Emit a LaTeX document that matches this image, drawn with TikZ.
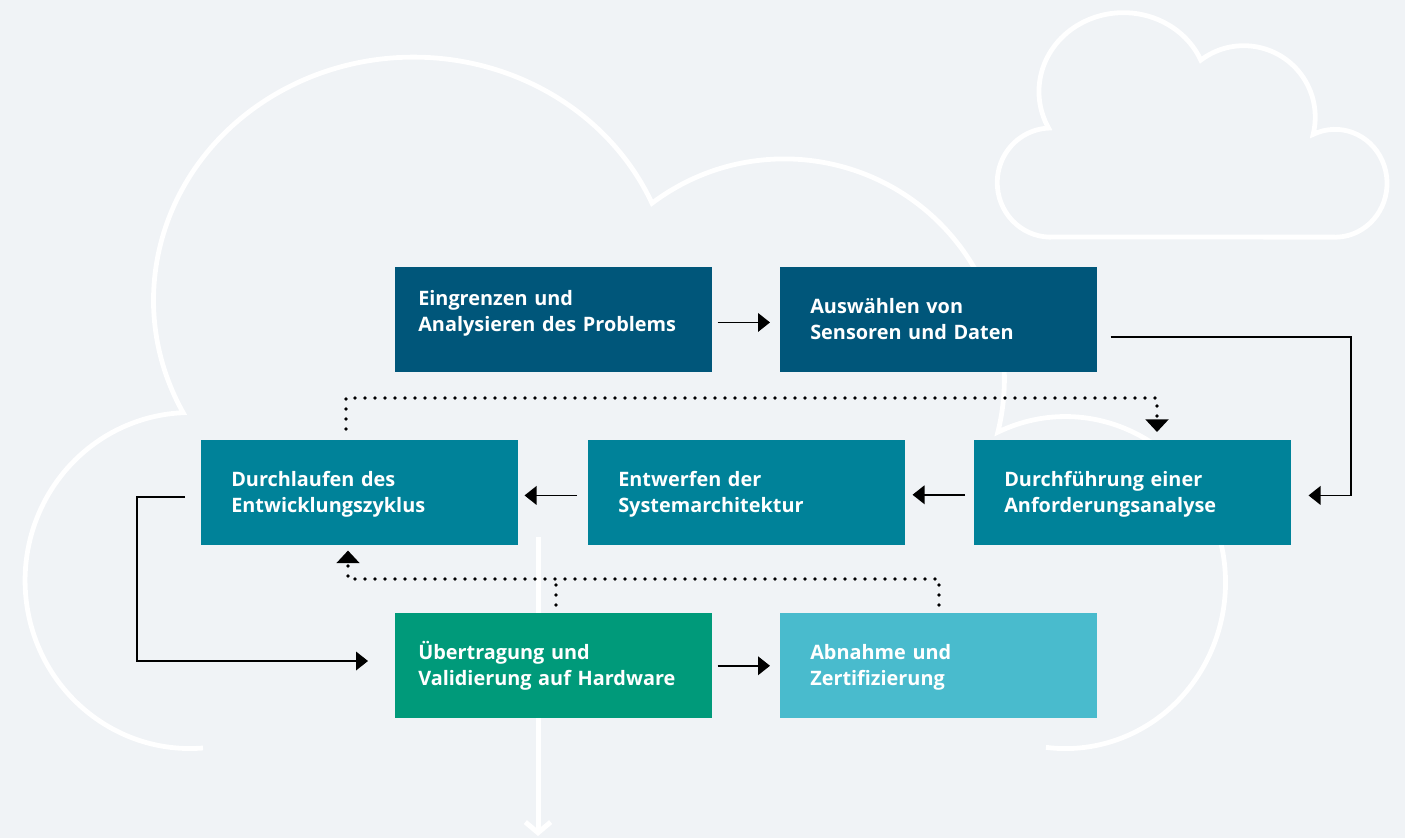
\documentclass[tikz,border=0pt]{standalone}
\usepackage{fontspec}
\setmainfont{Open Sans}
\usetikzlibrary{arrows.meta}

\definecolor{bgcol}{RGB}{240,243,246}
\definecolor{darkblue}{RGB}{0,86,122}
\definecolor{petrol}{RGB}{0,130,153}
\definecolor{boxgreen}{RGB}{0,154,122}
\definecolor{boxcyan}{RGB}{73,187,205}

\begin{document}
\begin{tikzpicture}[x=0.75pt,y=0.75pt,yscale=-1,xscale=1,
  box/.style={anchor=north west,minimum width=237.75pt,minimum height=78.75pt,inner ysep=0pt,inner xsep=22.5pt,text width=192.75pt,align=left,text=white,font=\fontsize{14.9}{19.5}\selectfont\bfseries,text height=10pt,text depth=19.75pt},
  boxwide/.style={inner xsep=17.25pt,text width=203.25pt},
  conn/.style={line width=1.1pt,-{Triangle[length=9pt,width=14pt]}},
  dotline/.style={line width=2.7pt,line cap=round,dash pattern=on 0pt off 7.5pt},
  dothead/.style={-{Triangle[length=9.5pt,width=17pt]}},
  cloudline/.style={draw=white,line width=3.6pt}]
%set diagram left start at 0, and has height of 838
\useasboundingbox (0,0) rectangle (1405,838);
\fill[bgcol] (0,0) rectangle (1405,838);

%Shape: Cloud
\draw[cloudline] (203,748) arc[start angle=85.5,end angle=267.6,x radius=165,y radius=168] arc[start angle=152.4,end angle=336.5,x radius=260,y radius=243] arc[start angle=233,end angle=374,radius=220] arc[start angle=245,end angle=457,x radius=160,y radius=166] ;
%Shape: Cloud
\begin{scope}[shift={(989.1,-5.9)},scale=0.3247]
\draw[cloudline] (203,748) arc[start angle=85.5,end angle=267.6,x radius=165,y radius=168] arc[start angle=152.4,end angle=336.5,x radius=260,y radius=243] arc[start angle=233,end angle=374,radius=220] arc[start angle=245,end angle=452,x radius=160,y radius=166] -- cycle ;
\end{scope}

%Straight Lines
\coordinate (wtop) at (538,537);
\coordinate (wbot) at (538,836);
\draw[white,line width=3.75pt,-{Straight Barb[length=8pt,width=19pt]}] (wtop) -- (wbot) ;

%Shape: Rectangle
\node[box,boxwide,fill=darkblue,text depth=31.75pt] (eingrenzen) at (395,267) {Eingrenzen und\\Analysieren des Problems};
%Shape: Rectangle
\node[box,fill=darkblue] (auswaehlen) at (780,267) {Auswählen von\\Sensoren und Daten};
%Shape: Rectangle
\node[box,fill=petrol] (durchlaufen) at (201,440) {Durchlaufen des\\Entwicklungszyklus};
%Shape: Rectangle
\node[box,fill=petrol] (entwerfen) at (588,440) {Entwerfen der\\Systemarchitektur};
%Shape: Rectangle
\node[box,fill=petrol] (durchfuehrung) at (974,440) {Durchführung einer\\Anforderungsanalyse};
%Shape: Rectangle
\node[box,boxwide,fill=boxgreen] (uebertragung) at (395,613) {Übertragung und\\Validierung auf Hardware};
%Shape: Rectangle
\node[box,fill=boxcyan] (abnahme) at (780,613) {Abnahme und\\Zertifizierung};

%Straight Lines
\draw[conn,shorten <=3.75pt,shorten >=7.5pt] ([yshift=2pt]eingrenzen.east) -- ([yshift=2pt]auswaehlen.west) ;
%Straight Lines
\coordinate (rturn) at (1351,337);
\draw[conn,shorten <=9.75pt,shorten >=12.75pt] (auswaehlen.east |- rturn) -- (rturn) |- ([yshift=2pt]durchfuehrung.east) ;
%Straight Lines
\draw[conn,shorten <=6.75pt,shorten >=5.25pt] ([yshift=1.5pt]durchfuehrung.west) -- ([yshift=1.5pt]entwerfen.east) ;
%Straight Lines
\draw[conn,shorten <=8.25pt,shorten >=4.5pt] ([yshift=2pt]entwerfen.west) -- ([yshift=2pt]durchlaufen.east) ;
%Straight Lines
\coordinate (lturn) at (137,661);
\draw[conn,shorten <=12pt,shorten >=20.25pt] ([yshift=3pt]durchlaufen.west) -| (lturn) -- (lturn -| uebertragung.west) ;
%Straight Lines
\draw[conn,shorten <=3.75pt,shorten >=7.5pt] (uebertragung.east) -- (abnahme.west) ;

%Dotted Lines
\coordinate (dotTL) at (346,398);
\coordinate (dotTR) at (1157,398);
\draw[dotline,dothead,shorten <=8.25pt,shorten >=6pt] (dotTL |- durchlaufen.north) -- (dotTL) -- (dotTR) -- (dotTR |- durchfuehrung.north) ;
\coordinate (dotBL) at (348,579);
\coordinate (dotBM) at (556,579);
\coordinate (dotBR) at (939,579);
\draw[dotline,dothead,shorten <=6pt,shorten >=3.75pt] (dotBR |- abnahme.north) -- (dotBR) -- (dotBL) -- (dotBL |- durchlaufen.south) ;
\draw[dotline,shorten <=6pt] (dotBM |- uebertragung.north) -- (dotBM) ;

\end{tikzpicture}
\end{document}
